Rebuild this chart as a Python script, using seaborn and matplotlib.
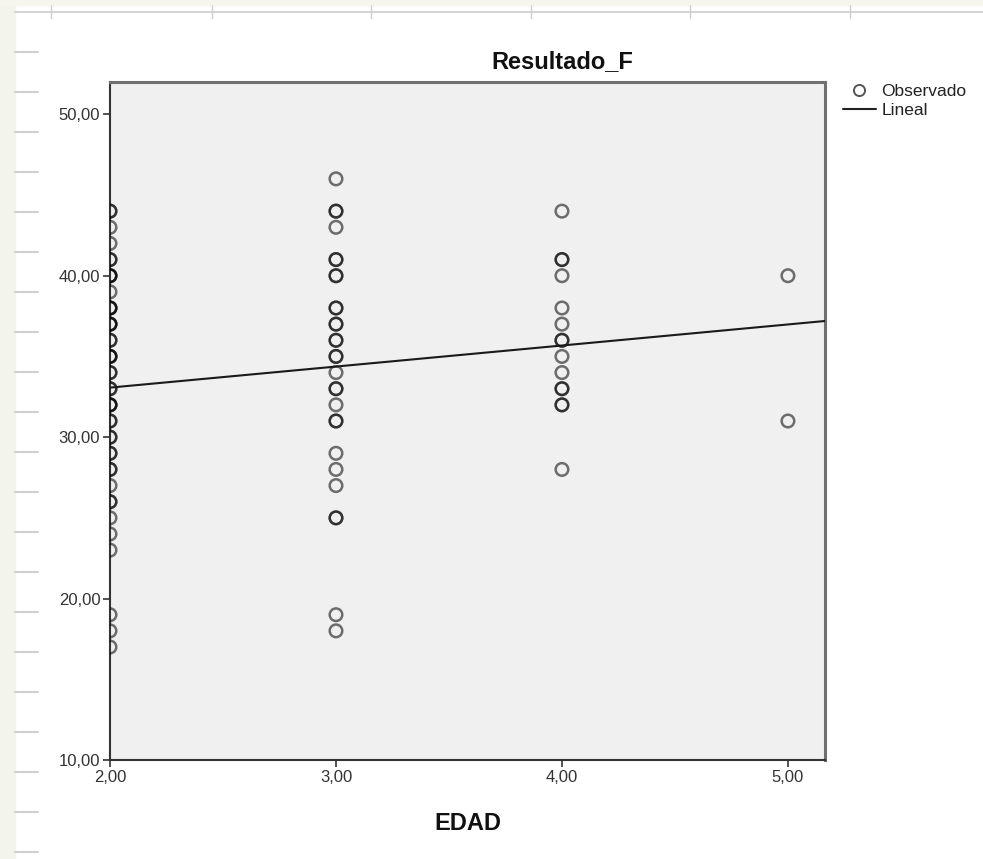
import numpy as np
import pandas as pd
import matplotlib
matplotlib.use('Agg')
import matplotlib.pyplot as plt
from matplotlib.lines import Line2D
from matplotlib.patches import Rectangle
from matplotlib.ticker import FuncFormatter
import seaborn as sns

# datos (EDAD vs Resultado_F)
edad_2 = [44, 43, 42, 41, 40, 39, 38, 37, 36, 35, 34, 33, 32, 31, 30, 29, 28, 27, 26, 25, 24, 23, 19, 18, 17,
          44, 41, 40, 40, 38, 38, 37, 37, 36, 35, 35, 34, 33, 32, 32, 31, 30, 29, 28, 26]
edad_3 = [46, 44, 44, 43, 41, 41, 40, 40, 38, 38, 37, 37, 36, 36, 35, 35, 34, 33, 33, 32, 31, 31,
          29, 28, 27, 25, 25, 19, 18]
edad_4 = [44, 41, 41, 40, 38, 37, 36, 36, 35, 34, 33, 33, 32, 32, 28]
edad_5 = [40, 31]

x_ticks = [2, 3, 4, 5]
y_ticks = [10, 20, 30, 40, 50]

df = pd.DataFrame({
    'EDAD': [2] * len(edad_2) + [3] * len(edad_3) + [4] * len(edad_4) + [5] * len(edad_5),
    'Resultado_F': edad_2 + edad_3 + edad_4 + edad_5,
})

sns.set_style('white')
plt.rcParams['font.family'] = ['Liberation Sans', 'DejaVu Sans']

W, H = 983, 859
fig = plt.figure(figsize=(W / 100, H / 100), dpi=100)

# fondo tipo diapositiva (franja y regla)
fig.patches.append(Rectangle((0, 0), 15 / W, 1, transform=fig.transFigure, color='#f3f4ea', zorder=0))
fig.patches.append(Rectangle((0, 1 - 5 / H), 1, 5 / H, transform=fig.transFigure, color='#f6f6ef', zorder=0))
fig.add_artist(Line2D([15 / W, 1], [1 - 12 / H] * 2, color='#d6d6d6', lw=1.5))
for px in [51, 212, 371, 531, 690, 850]:
    fig.add_artist(Line2D([px / W] * 2, [1 - 5 / H, 1 - 18 / H], color='#d0d0d0', lw=1))
for py in range(52, 859, 40):
    fig.add_artist(Line2D([15 / W, 38 / W], [1 - py / H] * 2, color='#cfcfcf', lw=1.5))

ax = fig.add_axes([110 / W, 1 - 760 / H, 715 / W, 678 / H])
ax.set_facecolor('#f0f0f0')
xlim = (2, 5.164)
ylim = (10, 52)
ax.set_xlim(xlim)
ax.set_ylim(ylim)

sns.scatterplot(data=df, x='EDAD', y='Resultado_F', ax=ax, marker='o', s=82,
                facecolors='none', edgecolor=(0, 0, 0, 0.55), linewidth=1.8, zorder=3)
sns.regplot(data=df, x='EDAD', y='Resultado_F', ax=ax, scatter=False, ci=None,
            truncate=False, line_kws=dict(color='#1a1a1a', lw=1.5, zorder=4))
ax.set_xlim(xlim)
ax.set_ylim(ylim)

ax.set_xticks(x_ticks)
ax.set_yticks(y_ticks)
fmt = FuncFormatter(lambda v, p: f'{v:.2f}'.replace('.', ','))
ax.xaxis.set_major_formatter(fmt)
ax.yaxis.set_major_formatter(fmt)
ax.tick_params(axis='both', direction='out', length=5, width=1.2, color='#333333',
               labelsize=12, labelcolor='#333333', pad=2, left=True, bottom=True)

for s in ['left', 'bottom']:
    ax.spines[s].set_color('#333333')
    ax.spines[s].set_linewidth(1.5)
for s in ['top', 'right']:
    ax.spines[s].set_color('#707070')
    ax.spines[s].set_linewidth(2.2)

ax.set_xlabel('EDAD', fontsize=17, fontweight='bold', color='#111111', labelpad=20)
ax.set_ylabel('')
fig.text(562 / W, 1 - 62 / H, 'Resultado_F', fontsize=17, fontweight='bold',
         ha='center', va='center', color='#111111')

handles = [Line2D([], [], marker='o', ls='none', mfc='none', mec='#555555', mew=1.4, ms=8),
           Line2D([], [], color='#222222', lw=1.5)]
fig.legend(handles, ['Observado', 'Lineal'], loc='upper left',
           bbox_to_anchor=(843 / W, 1 - 84 / H), frameon=False, fontsize=12.5,
           handlelength=1.9, handletextpad=0.3, labelspacing=0.2, borderpad=0,
           borderaxespad=0, labelcolor='#222222')

fig.savefig('out.png', dpi=100, facecolor='white')
